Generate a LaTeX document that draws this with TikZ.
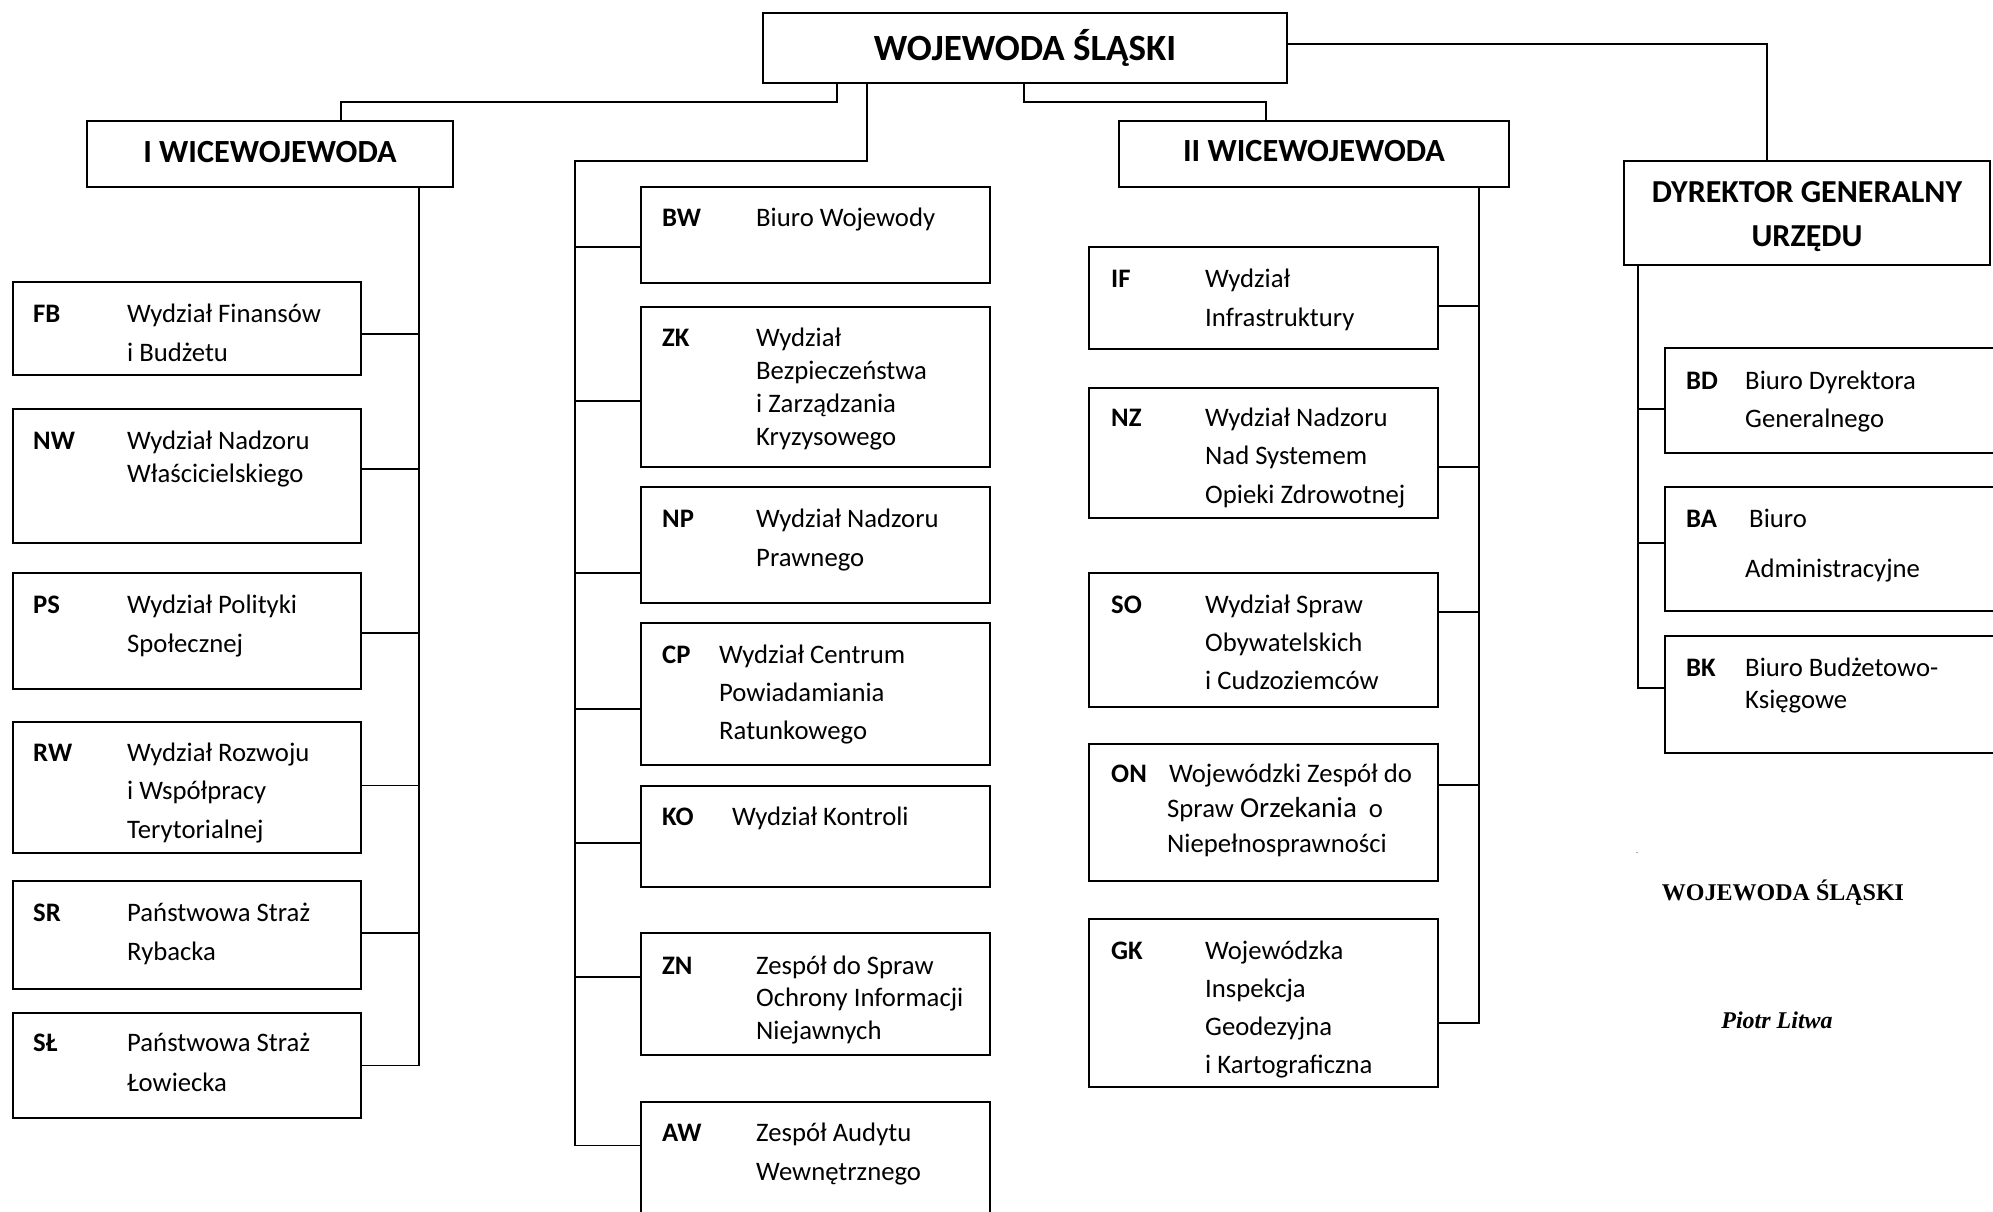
\documentclass[tikz,border=0pt]{standalone}
\usepackage{fontspec}
\setmainfont{Carlito}
\newfontfamily\sigfont{Liberation Serif}
\usetikzlibrary{fit,calc}
\newcommand\ml[2]{\vtop{\baselineskip=#1pt\relax\lineskiplimit=-100pt\relax\lineskip=0pt\relax #2}}
\newcommand\oneline[1]{\hbox{#1}}
\tikzset{
  box/.style={draw, line width=2pt, inner sep=0pt},
  conn/.style={draw, line width=1.8pt},
  bodytxt/.style={anchor=base west, inner sep=0pt, font=\fontsize{26.7}{30}\selectfont},
  codetxt/.style={anchor=base west, inner sep=0pt, font=\fontsize{26.7}{30}\selectfont\bfseries},
  headtxt/.style={anchor=base, inner sep=0pt, font=\fontsize{#1}{#1}\selectfont\bfseries},
  sigtxt/.style={anchor=base, inner sep=0pt, font=\sigfont\fontsize{24}{28}\selectfont\bfseries},
}
\newcommand\branch[4]{\coordinate (#1c) at ([yshift=#2pt]#1.#3); \draw[conn] (#1c) -- (#1c -| #4);}
\begin{document}
\begin{tikzpicture}[x=1pt,y=-1pt]
\useasboundingbox (0,0) rectangle (1993,1211);
\clip (0,0) rectangle (1993,1211);
% heads
\node[box, fit={(763,13) (1287,83)}] (woj) {};
\node[box, fit={(87,121) (453,187)}] (iw) {};
\node[box, fit={(1119,121) (1509,187)}] (iiw) {};
\node[box, fit={(1624,161) (1990,265)}] (dg) {};
\node[headtxt=37] (wojt) at (1025,60) {WOJEWODA ŚLĄSKI};
\node[headtxt=32.3] (iwt) at (270,162) {I WICEWOJEWODA};
\node[headtxt=32.3] (iiwt) at (1314,161) {II WICEWOJEWODA};
\node[headtxt=32] (dgt1) at (1807,202) {DYREKTOR GENERALNY};
\node[headtxt=32] (dgt2) at (1807,246) {URZĘDU};
% left column
\node[box, fit={(13,282) (361,375)}] (fb) {};
\node[box, fit={(13,409) (361,543)}] (nw) {};
\node[box, fit={(13,573) (361,689)}] (ps) {};
\node[box, fit={(13,722) (361,853)}] (rw) {};
\node[box, fit={(13,881) (361,989)}] (sr) {};
\node[box, fit={(13,1013) (361,1118)}] (sl) {};
\node[codetxt] (fbk) at (33,322) {FB};
\node[bodytxt] (fbd) at (127,322) {\ml{39}{\oneline{Wydział Finansów}\oneline{i Budżetu}}};
\node[codetxt] (nwk) at (33,449) {NW};
\node[bodytxt] (nwd) at (127,449) {\ml{33}{\oneline{Wydział Nadzoru}\oneline{Właścicielskiego}}};
\node[codetxt] (psk) at (33,613) {PS};
\node[bodytxt] (psd) at (127,613) {\ml{39}{\oneline{Wydział Polityki}\oneline{Społecznej}}};
\node[codetxt] (rwk) at (33,761) {RW};
\node[bodytxt] (rwd) at (127,761) {\ml{38.5}{\oneline{Wydział Rozwoju}\oneline{i Współpracy}\oneline{Terytorialnej}}};
\node[codetxt] (srk) at (33,921) {SR};
\node[bodytxt] (srd) at (127,921) {\ml{39}{\oneline{Państwowa Straż}\oneline{Rybacka}}};
\node[codetxt] (slk) at (33,1051) {SŁ};
\node[bodytxt] (sld) at (127,1051) {\ml{40}{\oneline{Państwowa Straż}\oneline{Łowiecka}}};
% middle column
\node[box, fit={(641,187) (990,283)}] (bw) {};
\node[box, fit={(641,307) (990,467)}] (zk) {};
\node[box, fit={(641,487) (990,603)}] (np) {};
\node[box, fit={(641,623) (990,765)}] (cp) {};
\node[box, fit={(641,786) (990,887)}] (ko) {};
\node[box, fit={(641,933) (990,1055)}] (zn) {};
\node[box, fit={(641,1102) (990,1216)}] (aw) {};
\node[codetxt] (bwk) at (662,226) {BW};
\node[bodytxt] (bwd) at (756,226) {Biuro Wojewody};
\node[codetxt] (zkk) at (662,346) {ZK};
\node[bodytxt] (zkd) at (756,346) {\ml{33}{\oneline{Wydział}\oneline{Bezpieczeństwa}\oneline{i Zarządzania}\oneline{Kryzysowego}}};
\node[codetxt] (npk) at (662,527) {NP};
\node[bodytxt] (npd) at (756,527) {\ml{39}{\oneline{Wydział Nadzoru}\oneline{Prawnego}}};
\node[codetxt] (cpk) at (662,663) {CP};
\node[bodytxt] (cpd) at (719,663) {\ml{38}{\oneline{Wydział Centrum}\oneline{Powiadamiania}\oneline{Ratunkowego}}};
\node[codetxt] (kok) at (662,825) {KO};
\node[bodytxt] (kod) at (732,825) {Wydział Kontroli};
\node[codetxt] (znk) at (662,974) {ZN};
\node[bodytxt] (znd) at (756,974) {\ml{32.5}{\oneline{Zespół do Spraw}\oneline{Ochrony Informacji}\oneline{Niejawnych}}};
\node[codetxt] (awk) at (662,1141) {AW};
\node[bodytxt] (awd) at (756,1141) {\ml{39}{\oneline{Zespół Audytu}\oneline{Wewnętrznego}}};
% II column
\node[box, fit={(1089,247) (1438,349)}] (inf) {};
\node[box, fit={(1089,388) (1438,518)}] (nz) {};
\node[box, fit={(1089,573) (1438,707)}] (so) {};
\node[box, fit={(1089,744) (1438,881)}] (on) {};
\node[box, fit={(1089,919) (1438,1087)}] (gk) {};
\node[codetxt] (infk) at (1111,287) {IF};
\node[bodytxt] (infd) at (1205,287) {\ml{39}{\oneline{Wydział}\oneline{Infrastruktury}}};
\node[codetxt] (nzk) at (1111,426) {NZ};
\node[bodytxt] (nzd) at (1205,426) {\ml{38.5}{\oneline{Wydział Nadzoru}\oneline{Nad Systemem}\oneline{Opieki Zdrowotnej}}};
\node[codetxt] (sok) at (1111,613) {SO};
\node[bodytxt] (sod) at (1205,613) {\ml{38}{\oneline{Wydział Spraw}\oneline{Obywatelskich}\oneline{i Cudzoziemców}}};
\node[codetxt] (onk) at (1111,782) {ON};
\node[bodytxt] (ond) at (1169,782) {\ml{35}{\oneline{Wojewódzki Zespół do}\oneline{\kern-2pt Spraw {\fontsize{29}{30}\selectfont Orzekania}\ \ o}\oneline{\kern-2pt Niepełnosprawności}}};
\node[codetxt] (gkk) at (1111,959) {GK};
\node[bodytxt] (gkd) at (1205,959) {\ml{38.3}{\oneline{Wojewódzka}\oneline{Inspekcja}\oneline{Geodezyjna}\oneline{i Kartograficzna}}};
% DG column
\node[box, fit={(1665,348) (2005,453)}] (bd) {};
\node[box, fit={(1665,487) (2005,611)}] (ba) {};
\node[box, fit={(1665,636) (2005,753)}] (bk) {};
\node[codetxt] (bdk) at (1686,389) {BD};
\node[bodytxt] (bdd) at (1745,389) {\ml{38}{\oneline{Biuro Dyrektora}\oneline{Generalnego}}};
\node[codetxt] (bak) at (1686,527) {BA};
\node[bodytxt] (bad) at (1745,527) {\ml{50}{\oneline{\kern4pt Biuro}\oneline{Administracyjne}}};
\node[codetxt] (bkk) at (1686,676) {BK};
\node[bodytxt] (bkd) at (1745,676) {\ml{32}{\oneline{Biuro Budżetowo-}\oneline{Księgowe}}};
% signature
\node[anchor=base, inner sep=0pt, font=\fontsize{8}{8}\selectfont] (dot) at (1637,853) {.};
\node[sigtxt] (sig1) at (1783,900) {WOJEWODA ŚLĄSKI};
\node[sigtxt, font=\sigfont\fontsize{24}{28}\selectfont\bfseries\itshape] (sig2) at (1777,1028) {Piotr Litwa};
% connectors from the top
\draw[conn] ([xshift=-188pt]woj.south) |- ([xshift=71pt,yshift=18pt]iw.north) -- ([xshift=71pt]iw.north);
\coordinate (mtop) at (575,161);
\coordinate (awc) at ([yshift=13.5pt]aw.west);
\draw[conn] ([xshift=-158pt]woj.south) |- (mtop) |- (awc);
\draw[conn] ([xshift=-1pt]woj.south) |- ([xshift=-48pt,yshift=18pt]iiw.north) -- ([xshift=-48pt]iiw.north);
\draw[conn] ([yshift=4pt]woj.east) -| ([xshift=-40pt]dg.north);
% left trunk
\coordinate (lv) at ([xshift=-35pt]iw.south east);
\coordinate (slc) at (sl.east);
\draw[conn] (lv) |- (slc);
\branch{fb}{-5.5}{east}{lv}
\branch{nw}{7}{east}{lv}
\branch{ps}{-2}{east}{lv}
\branch{rw}{2}{east}{lv}
\branch{sr}{2}{east}{lv}
% middle branches
\branch{bw}{-12}{west}{mtop}
\branch{zk}{-14}{west}{mtop}
\branch{np}{-28}{west}{mtop}
\branch{cp}{-15}{west}{mtop}
\branch{ko}{-6.5}{west}{mtop}
\branch{zn}{17}{west}{mtop}
% II trunk
\coordinate (rv) at ([xshift=-31pt]iiw.south east);
\coordinate (gkc) at ([yshift=-20pt]gk.east);
\draw[conn] (rv) |- (gkc);
\branch{inf}{-8}{east}{rv}
\branch{nz}{-14}{east}{rv}
\branch{so}{28}{east}{rv}
\branch{on}{27.5}{east}{rv}
% DG trunk
\coordinate (dv) at ([xshift=15pt]dg.south west);
\coordinate (bkc) at ([yshift=6.5pt]bk.west);
\draw[conn] (dv) |- (bkc);
\branch{bd}{-8.5}{west}{dv}
\branch{ba}{6}{west}{dv}
\end{tikzpicture}
\end{document}
